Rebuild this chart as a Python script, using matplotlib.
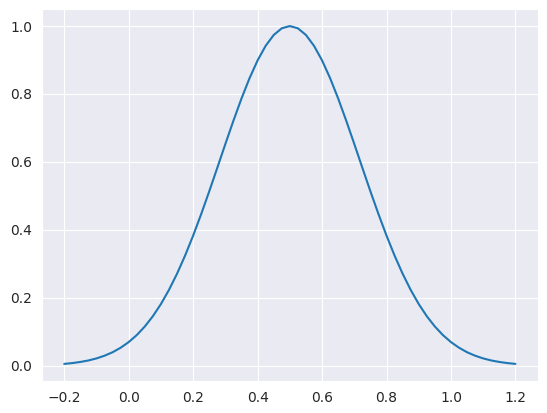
import matplotlib
matplotlib.use("Agg")
import matplotlib.pyplot as plt
import seaborn as sns

x_values = [-0.2, -0.175, -0.15, -0.125, -0.1, -0.075, -0.05, -0.025,
            0.0, 0.025, 0.05, 0.075, 0.1, 0.125, 0.15, 0.175,
            0.2, 0.225, 0.25, 0.275, 0.3, 0.325, 0.35, 0.375,
            0.4, 0.425, 0.45, 0.475, 0.5, 0.525, 0.55, 0.575,
            0.6, 0.625, 0.65, 0.675, 0.7, 0.725, 0.75, 0.775,
            0.8, 0.825, 0.85, 0.875, 0.9, 0.925, 0.95, 0.975,
            1.0, 1.025, 1.05, 1.075, 1.1, 1.125, 1.15, 1.175, 1.2]

y_values = [0.0054, 0.0078, 0.0111, 0.0155, 0.0215, 0.0295, 0.0397, 0.0530,
            0.0696, 0.0902, 0.1155, 0.1458, 0.1816, 0.2233, 0.2709, 0.3243,
            0.3831, 0.4466, 0.5136, 0.5829, 0.6529, 0.7214, 0.7867, 0.8466,
            0.8989, 0.9418, 0.9737, 0.9934, 1.0, 0.9934, 0.9737, 0.9418,
            0.8989, 0.8466, 0.7867, 0.7214, 0.6529, 0.5829, 0.5136, 0.4466,
            0.3831, 0.3243, 0.2709, 0.2233, 0.1816, 0.1458, 0.1155, 0.0902,
            0.0696, 0.0530, 0.0397, 0.0295, 0.0215, 0.0155, 0.0111, 0.0078, 0.0054]

sns.set_style("darkgrid")

fig = plt.figure(figsize=(5.47, 4.13), dpi=100)
ax = fig.add_axes([0.0762, 0.078, 0.9073, 0.8998])
ax.plot(x_values, y_values, color="#1f77b4", linewidth=1.5)

fig.savefig("out.png", dpi=100)
